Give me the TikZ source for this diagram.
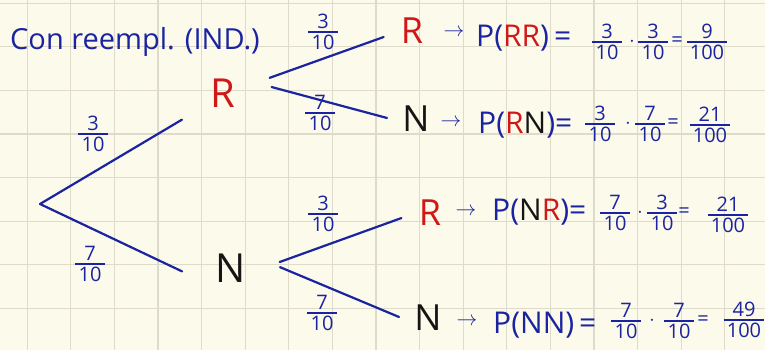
\documentclass[tikz,border=0pt]{standalone}
\usepackage{fontspec}
\setmainfont{Open Sans}
\definecolor{cInk}{HTML}{1A23A0}
\definecolor{cRed}{HTML}{D01818}
\definecolor{cBlk}{HTML}{151515}
\definecolor{cPaper}{HTML}{FCFAEA}
\definecolor{cGrid}{HTML}{DEDBCB}
\setlength{\arrayrulewidth}{1.5pt}
\newcommand{\fr}[2]{{\renewcommand{\arraystretch}{0.8}%
  \begin{tabular}{@{\,}c@{\,}}#1\\[-2pt]\hline\rule{0pt}{17pt}#2\end{tabular}}}
\newcommand{\rd}[1]{\textcolor{cRed}{#1}}
\newcommand{\bk}[1]{\textcolor{cBlk}{#1}}
\tikzset{
  gridline/.style={draw=cGrid, line width=1.2pt},
  branch/.style  ={draw=cInk, line width=2.2pt, line cap=round},
  bnode/.style   ={circle, inner sep=0pt, minimum size=60pt, outer sep=19pt,
                   font=\fontsize{40}{44}\selectfont},
  lnode/.style   ={circle, inner sep=0pt, minimum size=40pt, outer sep=9pt,
                   font=\fontsize{36}{40}\selectfont},
  plab/.style    ={inner sep=0pt, text=cInk, font=\fontsize{20}{21}\selectfont, yshift=-2.5pt},
  expr/.style    ={anchor=base west, inner sep=0pt, text=cInk, font=\fontsize{30}{34}\selectfont},
  arw/.style     ={inner sep=0pt, text=cInk, font=\fontsize{20}{20}\selectfont},
  eqn/.style     ={inner sep=0pt, text=cInk, font=\fontsize{20}{20}\selectfont},
  title/.style   ={anchor=base west, inner sep=0pt, text=cInk, font=\fontsize{29}{32}\selectfont},
}

\begin{document}
\begin{tikzpicture}[x=1pt, y=-1pt]
\useasboundingbox (0,0) rectangle (765,350);
\fill[cPaper] (0,0) rectangle (765,350);
% squared paper
\foreach \k in {0,...,17} \draw[gridline] ({27.2+43.6*\k},0) -- ++(0,350);
\foreach \k in {0,...,7} \draw[gridline] (0,{3.2+43.6*\k}) -- ++(765,0);

\node[title] (ttl) at (10,50) {Con reempl. (IND.)};

% tree
\coordinate (root) at (40,204);
\node[bnode, text=cRed] (r1) at (223,93) {R};
\node[bnode, text=cBlk] (n1) at (231,268) {N};
\node[lnode, text=cRed] (rr) at (412,31) {R};
\node[lnode, text=cBlk] (rn) at (416,119) {N};
\node[lnode, text=cRed] (nr) at (430,213) {R};
\node[lnode, text=cBlk] (nn) at (428,318) {N};

\draw[branch] (root) -- (r1.213);
\draw[branch] (root) -- (n1.184);
\draw[branch] (r1.18) -- (rr.192);
\draw[branch] (r1.7) -- (rn.178);
\draw[branch] (n1.7) -- (nr.190);
\draw[branch] (n1.1) -- (nn.178);

\node[plab] (p1) at (93,134) {\fr{3}{10}};
\node[plab] (p2) at (90,264) {\fr{7}{10}};
\node[plab] (p3) at (323,32) {\fr{3}{10}};
\node[plab] (p4) at (320,113) {\fr{7}{10}};
\node[plab] (p5) at (323,214) {\fr{3}{10}};
\node[plab] (p6) at (322,313) {\fr{7}{10}};

% products
\node[arw] (a1) at (454,33) {$\to$};
\node[expr] (e1) at (476,47) {P(\rd{RR})\,=};
\node[plab] (f1a) at (607,42) {\fr{3}{10}};
\node[eqn] (d1) at (632,42) {$\cdot$};
\node[plab] (f1b) at (653,42) {\fr{3}{10}};
\node[eqn] (q1) at (677,42) {=};
\node[plab] (f1c) at (707,42) {\fr{9}{100}};

\node[arw] (a2) at (451,123) {$\to$};
\node[expr] (e2) at (478,133) {P(\rd{R}\bk{N})=};
\node[plab] (f2a) at (600,124) {\fr{3}{10}};
\node[eqn] (d2) at (628,124) {$\cdot$};
\node[plab] (f2b) at (650,124) {\fr{7}{10}};
\node[eqn] (q2) at (673,124) {=};
\node[plab] (f2c) at (710,125) {\fr{21}{100}};

\node[arw] (a3) at (466,212) {$\to$};
\node[expr] (e3) at (492,220) {P(\bk{N}\rd{R})=};
\node[plab] (f3a) at (615,213) {\fr{7}{10}};
\node[eqn] (d3) at (640,213) {$\cdot$};
\node[plab] (f3b) at (662,213) {\fr{3}{10}};
\node[eqn] (q3) at (684,213) {=};
\node[plab] (f3c) at (728,215) {\fr{21}{100}};

\node[arw] (a4) at (467,322) {$\to$};
\node[expr] (e4) at (493,333) {P(NN)\,=};
\node[plab] (f4a) at (626,321) {\fr{7}{10}};
\node[eqn] (d4) at (652,321) {$\cdot$};
\node[plab] (f4b) at (679,321) {\fr{7}{10}};
\node[eqn] (q4) at (703,321) {=};
\node[plab] (f4c) at (744,320) {\fr{49}{100}};
\end{tikzpicture}
\end{document}
